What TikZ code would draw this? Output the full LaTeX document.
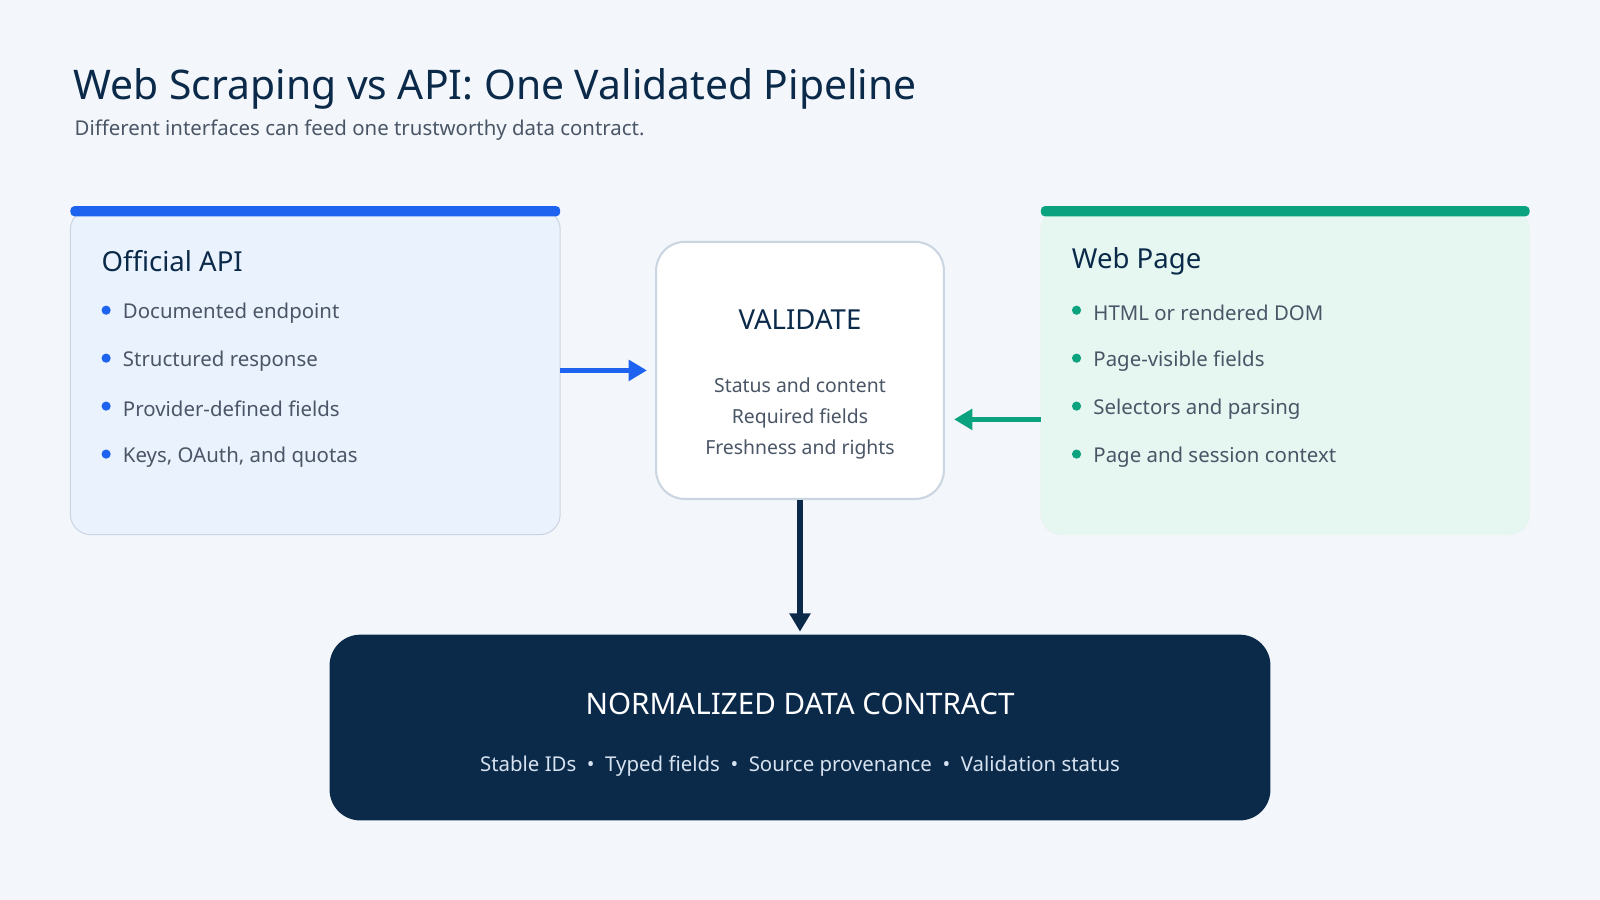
\documentclass[tikz,border=0pt]{standalone}
\usepackage{fontspec}
\setmainfont{Noto Sans}
\usetikzlibrary{arrows.meta}
\definecolor{bg}{HTML}{F3F7FB}
\definecolor{navy}{HTML}{0B2A4A}
\definecolor{txt}{HTML}{4A5566}
\definecolor{blu}{HTML}{1E63F0}
\definecolor{grn}{HTML}{0BA37F}
\definecolor{lblue}{HTML}{EAF2FE}
\definecolor{lgrn}{HTML}{E6F6F1}
\definecolor{bord}{HTML}{CBD5E1}
\definecolor{sub}{HTML}{D6E2F0}
\tikzset{
  fs/.style={font=\fontsize{#1}{#1}\selectfont},
  item/.style={anchor=west, text=txt, fs=20},
  head/.style={anchor=west, text=navy, fs=27, font=\fontsize{27}{27}\selectfont\bfseries},
  arr/.style={line width=5pt, -{Triangle[length=18pt,width=20pt]}},
}
\begin{document}
\begin{tikzpicture}[x=1pt,y=-1pt]
\fill[bg] (0,0) rectangle (1568,882);
\useasboundingbox (0,0) rectangle (1568,882);
\node[anchor=base west, text=navy, inner sep=0, fs=40] (title) at (72,98) {Web Scraping vs API: One Validated Pipeline};
\node[anchor=west, text=txt, inner sep=0, fs=20] (subt) at (73,128) {Different interfaces can feed one trustworthy data contract.};
% left
\draw[bord, fill=lblue, rounded corners=20pt, line width=1pt] (69,205) rectangle (549,524);
\fill[blu, rounded corners=4pt] (69,202) rectangle (549,212);
\node[head, text=navy] (lh) at (96,256) {Official API};
\foreach \y/\t in {307/Documented endpoint,354/Structured response,401/Provider-defined fields,448/{Keys, OAuth, and quotas}}{
  \fill[blu] (104,\y-3) circle (4.5pt);
  \node[item] at (117,\y) {\t};
}
% right
\draw[bord!70!grn!20, fill=lgrn, rounded corners=20pt, line width=1pt] (1020,205) rectangle (1499,524);
\fill[grn, rounded corners=4pt] (1020,202) rectangle (1499,212);
\node[head] (rh) at (1047,256) {Web Page};
\foreach \y/\t in {307/HTML or rendered DOM,354/Page-visible fields,401/Selectors and parsing,448/Page and session context}{
  \fill[grn] (1055,\y-3) circle (4.5pt);
  \node[item] at (1068,\y) {\t};
}
% middle
\node[draw=bord, fill=white, line width=2pt, rounded corners=28pt, minimum width=282pt, minimum height=252pt] (val) at (784,363) {};
\node[text=navy, fs=27] (vt) at (784,313) {VALIDATE};
\node[text=txt, fs=19, align=center, font=\fontsize{19}{30.5}\selectfont] (vl) at (784,410) {Status and content\\Required fields\\Freshness and rights};
% bottom
\node[fill=navy, rounded corners=30pt, minimum width=922pt, minimum height=182pt] (out) at (784,713) {};
\node[text=white, fs=29] (ot) at (784,690) {NORMALIZED DATA CONTRACT};
\node[text=sub, fs=20] (ol) at (784,751) {Stable IDs \ \textbullet\ \ Typed fields \ \textbullet\ \ Source provenance \ \textbullet\ \ Validation status};
% arrows
\coordinate (a1) at (549,363); \coordinate (a2) at (634,363);
\draw[arr, blu] (a1) -- (a2);
\coordinate (b1) at (1020,411); \coordinate (b2) at (935,411);
\draw[arr, grn] (b1) -- (b2);
\draw[arr, navy] (val.south) -- (784,619);
\end{tikzpicture}
\end{document}
